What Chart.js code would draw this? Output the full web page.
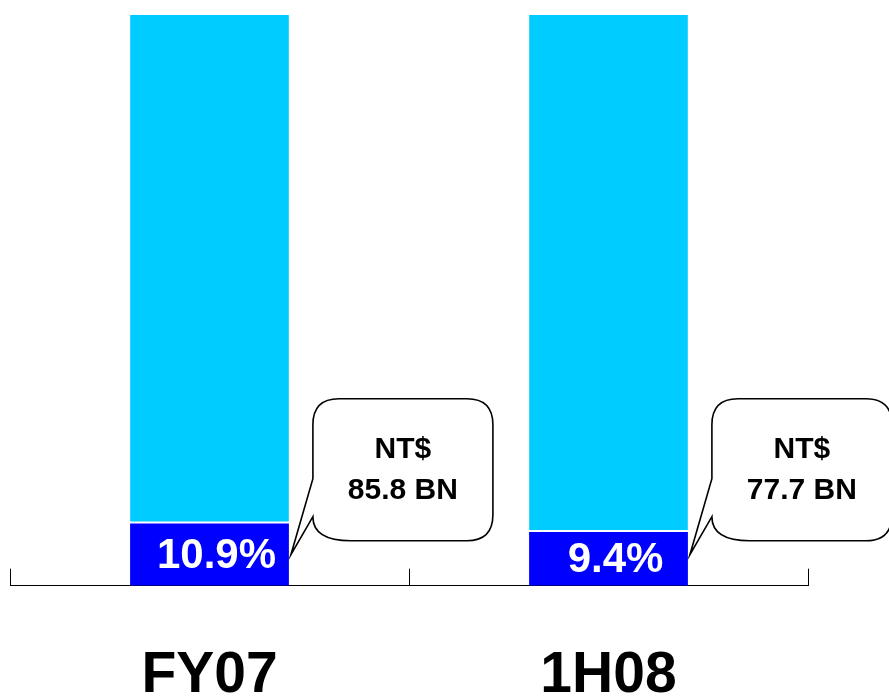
<!DOCTYPE html>
<html>
<head>
<meta charset="utf-8">
<script src="https://cdn.jsdelivr.net/npm/chart.js@4/dist/chart.umd.min.js"></script>
<style>
  html, body { margin: 0; padding: 0; background: #fff; }
  #wrap { width: 889px; height: 696px; position: relative; }
</style>
</head>
<body>
<div id="wrap"><canvas id="c"></canvas></div>
<script>
// data
const categories = ["FY07", "1H08"];
const sharePct = [10.9, 9.4];          // dark blue segment
const restPct = [89.1, 90.6];          // cyan remainder
const shareLabels = ["10.9%", "9.4%"];
const calloutLines = [["NT$", "85.8 BN"], ["NT$", "77.7 BN"]];

const FONT = "Arial, 'Liberation Sans', Helvetica, sans-serif";

/* percentage text inside the dark segment + speech-bubble callouts */
const annotate = {
  id: "annotate",
  afterDatasetsDraw(chart) {
    const ctx = chart.ctx;
    const bars = chart.getDatasetMeta(0).data;
    ctx.save();
    bars.forEach((b, i) => {
      const mid = (b.y + b.base) / 2;
      // percent label
      ctx.fillStyle = "#fff";
      ctx.font = `bold 42px ${FONT}`;
      ctx.textAlign = "center";
      ctx.textBaseline = "middle";
      ctx.fillText(shareLabels[i], b.x + 7, mid + 2);

      // callout bubble, pointer ends at the bar's right edge
      const right = b.x + b.width / 2;
      const tip = { x: right + 2, y: b.base - 31 };
      const L = right + 24, W = 180, B = tip.y - 14, T = B - 142, R = L + W, r = 26;
      ctx.beginPath();
      ctx.moveTo(L + r, T);
      ctx.lineTo(R - r, T);
      ctx.quadraticCurveTo(R, T, R, T + r);
      ctx.lineTo(R, B - r);
      ctx.quadraticCurveTo(R, B, R - r, B);
      ctx.lineTo(L + 38, B);
      ctx.quadraticCurveTo(L, B, L, B - 24);
      ctx.lineTo(tip.x, tip.y);
      ctx.lineTo(L, B - 62);
      ctx.lineTo(L, T + r);
      ctx.quadraticCurveTo(L, T, L + r, T);
      ctx.closePath();
      ctx.fillStyle = "#fff";
      ctx.fill();
      ctx.lineWidth = 1.6;
      ctx.strokeStyle = "#000";
      ctx.stroke();

      ctx.fillStyle = "#000";
      ctx.font = `bold 30px ${FONT}`;
      const cx = (L + R) / 2, cy = (T + B) / 2;
      ctx.fillText(calloutLines[i][0], cx, cy - 20);
      ctx.fillText(calloutLines[i][1], cx, cy + 21);
    });
    ctx.restore();
  }
};

new Chart(document.getElementById("c"), {
  type: "bar",
  data: {
    labels: categories,
    datasets: [
      { data: sharePct, backgroundColor: "#0000FF", borderWidth: 0 },
      { data: restPct, backgroundColor: "#00CCFF", borderColor: "#fff",
        borderWidth: { top: 0, left: 0, right: 0, bottom: 2 }, borderSkipped: false },
    ],
  },
  options: {
    responsive: true, maintainAspectRatio: false, animation: false,
    datasets: { bar: { categoryPercentage: 1, barPercentage: 0.398 } },
    layout: { padding: { left: 10, right: 81, top: 15, bottom: -88 } },
    plugins: { legend: { display: false }, tooltip: { enabled: false } },
    scales: {
      x: {
        stacked: true,
        grid: { display: true, drawOnChartArea: false, drawTicks: true, tickLength: -17, color: "#000", lineWidth: 1, offset: true },
        border: { display: true, color: "#000", width: 1 },
        ticks: { color: "#000", padding: 82, font: { family: FONT, size: 57, weight: "bold", lineHeight: 0.9 } },
      },
      y: { stacked: true, display: false, min: 0, max: 100 },
    },
  },
  plugins: [annotate],
});
</script>
</body>
</html>
